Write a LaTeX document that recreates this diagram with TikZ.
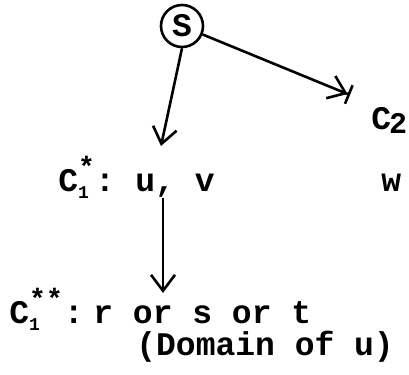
\documentclass[tikz,border=0pt]{standalone}
\usepackage{fontspec}
\setmonofont{Liberation Mono}
\usetikzlibrary{arrows.meta,positioning}
% small index under and star over a letter
\newcommand{\idx}[2]{\rlap{\raisebox{-0.35ex}{\fontsize{9}{9}\selectfont #1}}\raisebox{0.9ex}{\fontsize{14}{14}\selectfont #2}}

\begin{document}
\begin{tikzpicture}[x=0.5pt,y=-0.5pt,
  txt/.style={font=\ttfamily\bfseries\fontsize{16.5}{20}\selectfont,inner sep=0pt,anchor=base west},
  arr/.style={line width=1.3pt,-{Straight Barb[length=8pt,width=12pt,line width=1.3pt]}},
  barr/.style={line width=1.3pt,-{Straight Barb[length=8pt,width=12pt,line width=1.3pt]Bar[width=10pt,line width=1.3pt]}}]
  \useasboundingbox (0,0) rectangle (409,375);
  % top node
  \node[txt,anchor=center,draw,circle,line width=1.3pt,minimum size=21pt] (S) at (182,26) {S};
  % first level
  \node[txt] (c1) at (58,192) {C\idx{1}{*}:};
  \node[txt] (uv) at (135,192) {u, v};
  \node[txt] (w) at (381,192) {w};
  \node[txt] (c2) at (371,130) {C\kern-1pt\raisebox{-2pt}{\fontsize{15}{15}\selectfont 2}};
  % second level
  \node[txt] (c1s) at (9,324) {C\idx{1}{**}\kern0.5pt:};
  \node[txt] (rst) at (93,324) {r or s or t};
  \node[txt] (dom) at (136,356) {(Domain of u)};
  % arrow ends
  \coordinate (tipA) at (161,146);
  \coordinate (tipB) at (350,95);
  \coordinate (tipC) at (163,293);
  \draw[arr] (S.south) -- (tipA);
  \draw[barr] (S) -- (tipB);
  \draw[arr] (uv.south -| tipC) -- (tipC);
\end{tikzpicture}
\end{document}
